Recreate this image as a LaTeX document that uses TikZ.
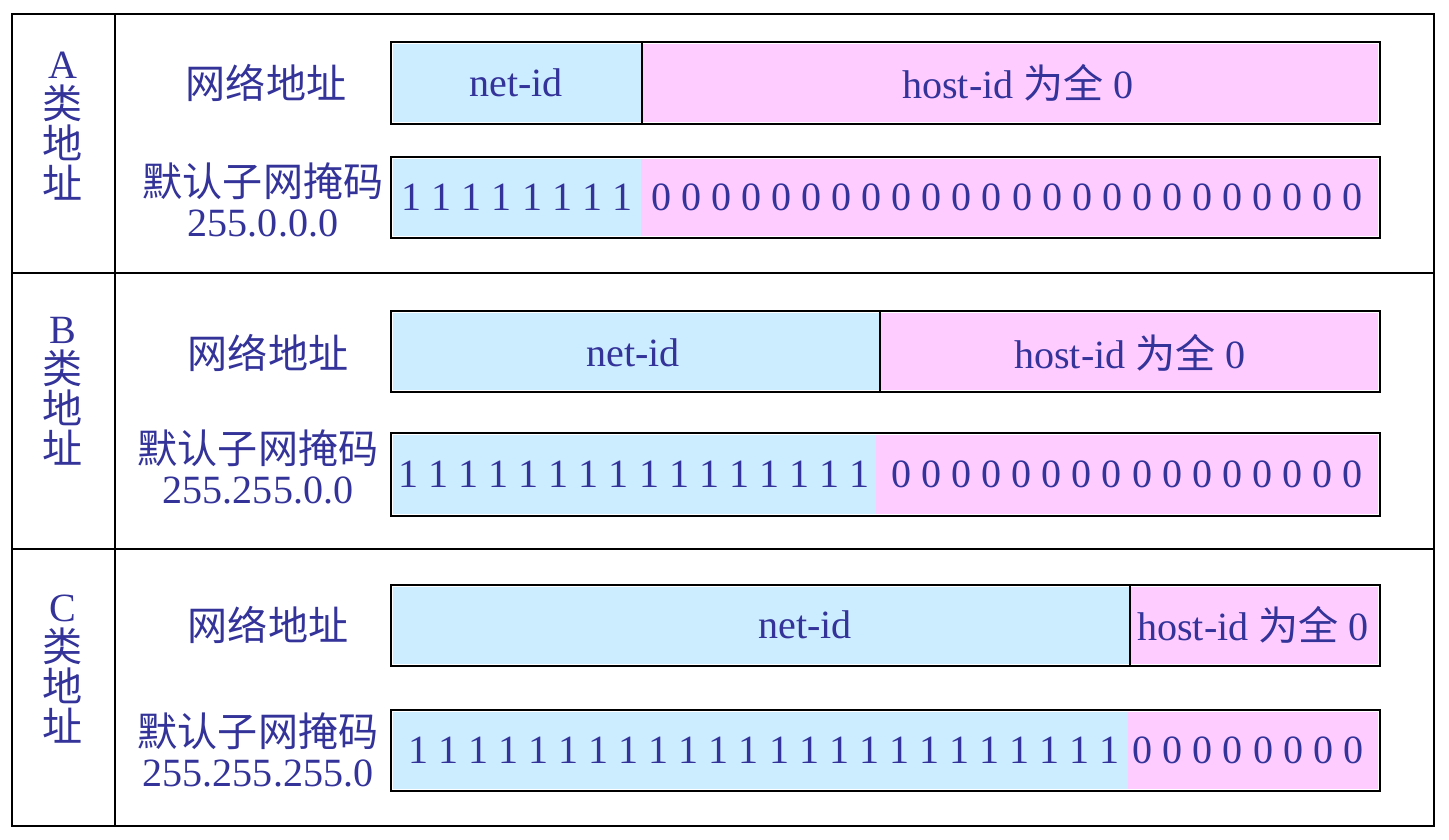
\documentclass[tikz,border=0pt]{standalone}
\usepackage{fontspec}
\setmainfont{Liberation Serif}
\newfontfamily\cjk{Noto Sans CJK SC}
\usetikzlibrary{positioning}

\definecolor{txtblue}{HTML}{333399}
\definecolor{netblue}{HTML}{CCECFF}
\definecolor{hostpink}{HTML}{FFCCFF}

\begin{document}
\begin{tikzpicture}[x=0.01cm,y=-0.01cm,
    lbl/.style={text=txtblue,inner sep=0pt,font=\fontsize{11.4}{11.4}\selectfont},
    cls/.style={lbl,align=center},
    frame/.style={draw=black,line width=0.6pt},
    bar/.style={draw=black,line width=0.8pt},
    netfill/.style={fill=netblue},
    hostfill/.style={fill=hostpink}]

  \useasboundingbox (0,0) rectangle (1449,839);

  \draw[frame] (12,14) rectangle (1434,826);
  \draw[frame] (115,14) -- (115,826);
  \draw[frame] (12,273) -- (1434,273);
  \draw[frame] (12,549) -- (1434,549);

  % class A
  \node[cls] (Acls) at (63,126) {A\\{\cjk 类}\\{\cjk 地}\\{\cjk 址}};
  \node[lbl] (Anetlbl) at (266,83) {\cjk 网络地址};
  \node[cls] (Amasklbl) at (263,200) {{\cjk 默认子网掩码}\\255.0.0.0};

  \fill[netfill]  (393,44) rectangle (641,122);
  \fill[hostfill] (643,44) rectangle (1378,122);
  \draw[bar] (391,42) rectangle (1380,124);
  \draw[bar] (642,42) -- (642,124);
  \node[lbl] (Anet)  at (516,83)  {net-id};
  \node[lbl] (Ahost) at (1018,83) {host-id {\cjk 为全} 0};

  \fill[netfill]  (393,159) rectangle (641,236);
  \fill[hostfill] (641,159) rectangle (1378,236);
  \draw[bar] (391,157) rectangle (1380,238);
  \node[lbl] (Aones)  at (517,197)  {1 1 1 1 1 1 1 1};
  \node[lbl] (Azeros) at (1007,197) {0 0 0 0 0 0 0 0 0 0 0 0 0 0 0 0 0 0 0 0 0 0 0 0};

  % class B
  \node[cls] (Bcls) at (63,391) {B\\{\cjk 类}\\{\cjk 地}\\{\cjk 址}};
  \node[lbl] (Bnetlbl) at (268,353) {\cjk 网络地址};
  \node[cls] (Bmasklbl) at (258,467) {{\cjk 默认子网掩码}\\255.255.0.0};

  \fill[netfill]  (393,313) rectangle (879,390);
  \fill[hostfill] (881,313) rectangle (1378,390);
  \draw[bar] (391,311) rectangle (1380,392);
  \draw[bar] (880,311) -- (880,392);
  \node[lbl] (Bnet)  at (633,353)  {net-id};
  \node[lbl] (Bhost) at (1130,353) {host-id {\cjk 为全} 0};

  \fill[netfill]  (393,435) rectangle (876,514);
  \fill[hostfill] (876,435) rectangle (1378,514);
  \draw[bar] (391,433) rectangle (1380,516);
  \node[lbl] (Bones)  at (634,474)  {1 1 1 1 1 1 1 1 1 1 1 1 1 1 1 1};
  \node[lbl] (Bzeros) at (1127,474) {0 0 0 0 0 0 0 0 0 0 0 0 0 0 0 0};

  % class C
  \node[cls] (Ccls) at (63,669) {C\\{\cjk 类}\\{\cjk 地}\\{\cjk 址}};
  \node[lbl] (Cnetlbl) at (268,625) {\cjk 网络地址};
  \node[cls] (Cmasklbl) at (258,750) {{\cjk 默认子网掩码}\\255.255.255.0};

  \fill[netfill]  (393,587) rectangle (1129,664);
  \fill[hostfill] (1131,587) rectangle (1378,664);
  \draw[bar] (391,585) rectangle (1380,666);
  \draw[bar] (1130,585) -- (1130,666);
  \node[lbl] (Cnet)  at (805,625)  {net-id};
  \node[lbl] (Chost) at (1253,625) {host-id {\cjk 为全} 0};

  \fill[netfill]  (393,712) rectangle (1128,789);
  \fill[hostfill] (1128,712) rectangle (1378,789);
  \draw[bar] (391,710) rectangle (1380,791);
  \node[lbl] (Cones)  at (764,750)  {1 1 1 1 1 1 1 1 1 1 1 1 1 1 1 1 1 1 1 1 1 1 1 1};
  \node[lbl] (Czeros) at (1248,750) {0 0 0 0 0 0 0 0};

\end{tikzpicture}
\end{document}
